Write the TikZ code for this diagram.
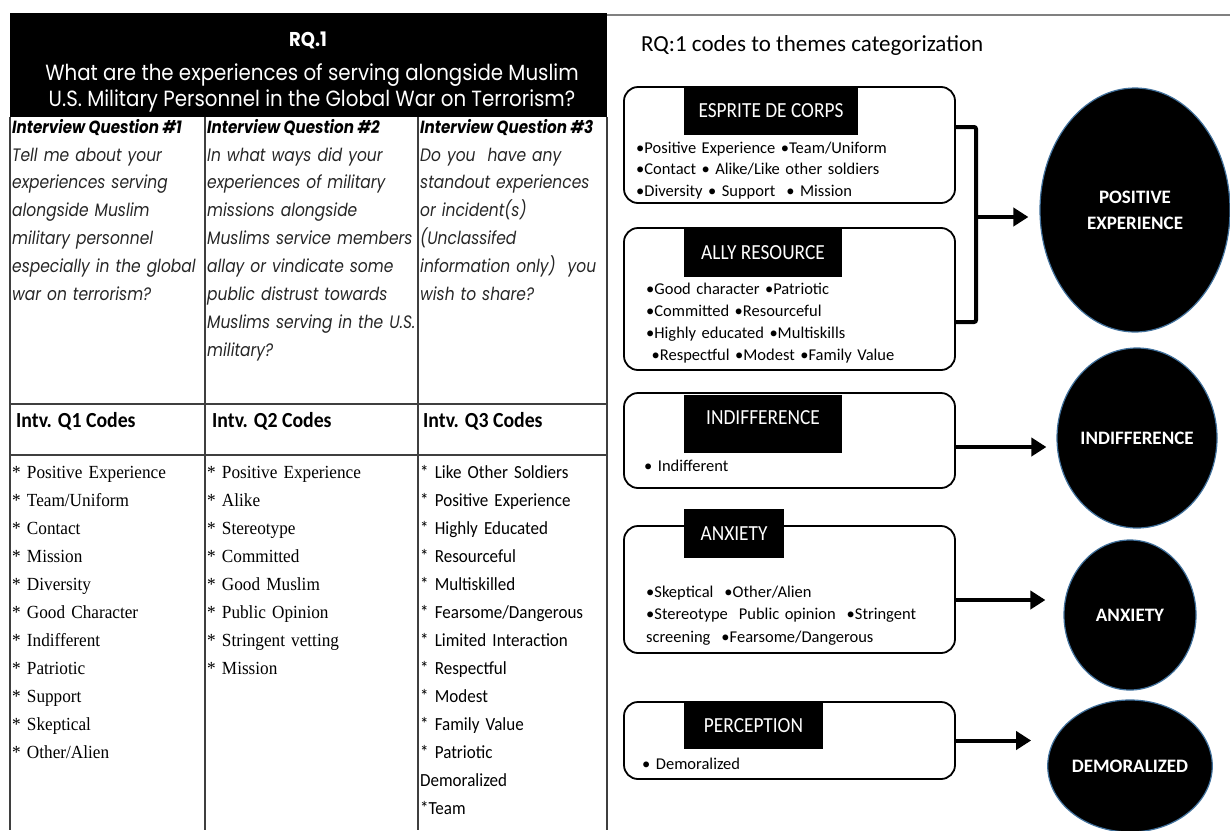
\documentclass[tikz,border=0pt]{standalone}
\usepackage{fontspec}
\setmainfont{Liberation Serif}
\newfontfamily\gothhead[FakeStretch=0.9]{Poppins}
\newfontfamily\gothq[FakeStretch=0.86]{Poppins}
\newfontfamily\calb{Carlito}
\newfontfamily\calnarrow[FakeStretch=0.92]{Carlito}
\newfontfamily\callabel[FakeStretch=0.9]{Carlito}
\newfontfamily\serifnarrow[FakeStretch=0.93]{Liberation Serif}
\usetikzlibrary{shapes.geometric,arrows.meta,calc}

\definecolor{rule}{HTML}{3F3F3F}
\definecolor{ringblue}{HTML}{41719C}

\tikzset{
  txt/.style={inner sep=0pt, anchor=base west, text width=#1, execute at begin node=\raggedright},
  txt/.default=300pt,
  qhead/.style={inner sep=0pt, anchor=base west, font=\gothq\bfseries\itshape\fontsize{17.6}{18}\selectfont},
  qtext/.style={txt=300pt, text=black!85, font=\gothq\itshape\fontsize{18}{27.9}\selectfont},
  chead/.style={inner sep=0pt, anchor=base west, font=\calnarrow\bfseries\fontsize{21.5}{22}\selectfont},
  serifcodes/.style={txt=300pt, font=\serifnarrow\fontsize{18.5}{28}\selectfont},
  sanscodes/.style={txt=300pt, font=\calnarrow\fontsize{18.5}{28}\selectfont},
  themebox/.style={draw=black, line width=1.8pt, rounded corners=14pt, inner sep=0pt},
  lab/.style={fill=black, text=white, inner sep=0pt, font=\callabel\fontsize{21.5}{24}\selectfont},
  bullets/.style={txt=320pt, font=\calb\fontsize{16.5}{#1}\selectfont},
  theme/.style={ellipse, fill=black, draw=ringblue, line width=1.2pt, inner sep=0pt,
    text=white, align=center, font=\calb\bfseries\fontsize{19}{26}\selectfont},
  arr/.style={line width=4pt, -{Triangle[length=15pt,width=18pt]}},
  bracket/.style={line width=4pt, rounded corners=2pt},
  tablerule/.style={draw=rule, line width=1.3pt}
}

\begin{document}
\begin{tikzpicture}[x=1pt,y=-1pt]
\useasboundingbox (0,0) rectangle (1230,830);
\fill[white] (0,0) rectangle (1230,830);

% ---------- left: research question table ----------
\fill[black] (10,13) rectangle (607,117);
\node[text=white, font=\gothhead\bfseries\fontsize{20}{24}\selectfont] (rq) at (308,40) {RQ.1};
\node[text=white, align=center, font=\gothhead\fontsize{22}{26}\selectfont] (rqq) at (312,88)
  {What are the experiences of serving alongside Muslim\\U.S. Military Personnel in the Global War on Terrorism?};

\draw[tablerule] (10,117) -- (10,830);
\draw[tablerule] (205,117) -- (205,830);
\draw[tablerule] (418,117) -- (418,830);
\draw[tablerule] (607,117) -- (607,830);
\draw[tablerule] (10,404) -- (607,404);
\draw[tablerule] (10,455) -- (607,455);

\node[qhead] (qh1) at (12,133) {Interview Question \#1};
\node[qhead] (qh2) at (207,133) {Interview Question \#2};
\node[qhead] (qh3) at (420,133) {Interview Question \#3};

\node[qtext] (q1) at (12,161) {Tell me about your\\experiences serving\\alongside Muslim\\military personnel\\especially in the global\\war on terrorism?};
\node[qtext] (q2) at (207,161) {In what ways did your\\experiences of military\\missions alongside\\Muslims service members\\allay or vindicate some\\public distrust towards\\Muslims serving in the U.S.\\military?};
\node[qtext] (q3) at (420,161) {Do you\ \ have any\\standout experiences\\or incident(s)\\(Unclassifed\\information only)\ \ you\\wish to share?};

\node[chead] (ch1) at (16,427) {Intv. Q1 Codes};
\node[chead] (ch2) at (212,427) {Intv. Q2 Codes};
\node[chead] (ch3) at (423,427) {Intv. Q3 Codes};

\node[serifcodes] (c1) at (12,478) {* Positive Experience\\{}* Team/Uniform\\{}* Contact\\{}* Mission\\{}* Diversity\\{}* Good Character\\{}* Indifferent\\{}* Patriotic\\{}* Support\\{}* Skeptical\\{}* Other/Alien};
\node[serifcodes] (c2) at (207,478) {* Positive Experience\\{}* Alike\\{}* Stereotype\\{}* Committed\\{}* Good Muslim\\{}* Public Opinion\\{}* Stringent vetting\\{}* Mission};
\node[sanscodes] (c3) at (420,478) {* Like Other Soldiers\\{}* Positive Experience\\{}* Highly Educated\\{}* Resourceful\\{}* Multiskilled\\{}* Fearsome/Dangerous\\{}* Limited Interaction\\{}* Respectful\\{}* Modest\\{}* Family Value\\{}* Patriotic\\Demoralized\\{}*Team};

% ---------- right: codes to themes ----------
\draw[gray, line width=1.5pt] (607,15) -- (1230,15);
\node[inner sep=0pt, anchor=base west, font=\calb\fontsize{23}{26}\selectfont] (title) at (641,51) {RQ:1 codes to themes categorization};

\node[themebox, minimum width=331pt, minimum height=116pt] (b1) at (789.5,145) {};
\node[themebox, minimum width=331pt, minimum height=142pt] (b2) at (789.5,299) {};
\node[themebox, minimum width=331pt, minimum height=95pt]  (b3) at (789.5,440.5) {};
\node[themebox, minimum width=331pt, minimum height=127pt] (b4) at (789.5,589.5) {};
\node[themebox, minimum width=331pt, minimum height=77pt]  (b5) at (789.5,740.5) {};

\node[lab, minimum width=174pt, minimum height=48pt] (l1) at (771,111) {ESPRITE DE CORPS};
\node[lab, minimum width=158pt, minimum height=48pt] (l2) at (763,253) {ALLY RESOURCE};
\node[lab, minimum width=158pt, minimum height=58pt, text depth=12pt] (l3) at (763,424) {INDIFFERENCE};
\node[lab, minimum width=100pt, minimum height=49pt] (l4) at (734,533.5) {ANXIETY};
\node[lab, minimum width=139pt, minimum height=46pt] (l5) at (753.5,726) {PERCEPTION};

\node[bullets=21.5] (t1) at (636,153) {•Positive Experience •Team/Uniform\\•Contact • Alike/Like other soldiers\\•Diversity • Support \ • Mission};
\node[bullets=22] (t2) at (646,294) {•Good character •Patriotic\\•Committed •Resourceful\\•Highly educated •Multiskills\\\ •Respectful •Modest •Family Value};
\node[bullets=22] (t3) at (644,471) {• Indifferent};
\node[bullets=22.5] (t4) at (646,597) {•Skeptical \ •Other/Alien\\•Stereotype \ Public opinion \ •Stringent\\screening \ •Fearsome/Dangerous};
\node[bullets=22] (t5) at (642,769) {• Demoralized};

\node[theme, minimum width=190pt, minimum height=244pt] (e1) at (1135,210) {POSITIVE\\EXPERIENCE};
\node[theme, minimum width=154pt, minimum height=180pt] (e2) at (1137,438) {INDIFFERENCE};
\node[theme, minimum width=132pt, minimum height=150pt] (e3) at (1130,615) {ANXIETY};
\node[theme, minimum width=120pt, minimum height=132pt] (e4) at (1130,766) {DEMORALIZED};

% bracket joining the two positive themes
\coordinate (brk) at (976,217);
\draw[bracket] ($(b1.east)+(0,-18)$) -| (brk) |- ($(b2.east)+(0,23)$);

% arrow start points on the box edges
\coordinate (a3) at ($(b3.east)+(0,6.5)$);
\coordinate (a4) at ($(b4.east)+(0,10.5)$);

\draw[arr, shorten >=11pt] (brk) -- (brk -| e1.west);
\draw[arr, shorten >=10pt] (a3) -- (a3 -| e2.west);
\draw[arr, shorten >=18pt] (a4) -- (a4 -| e3.west);
\draw[arr, shorten >=16pt] (b5.east) -- (b5.east -| e4.west);
\end{tikzpicture}
\end{document}
